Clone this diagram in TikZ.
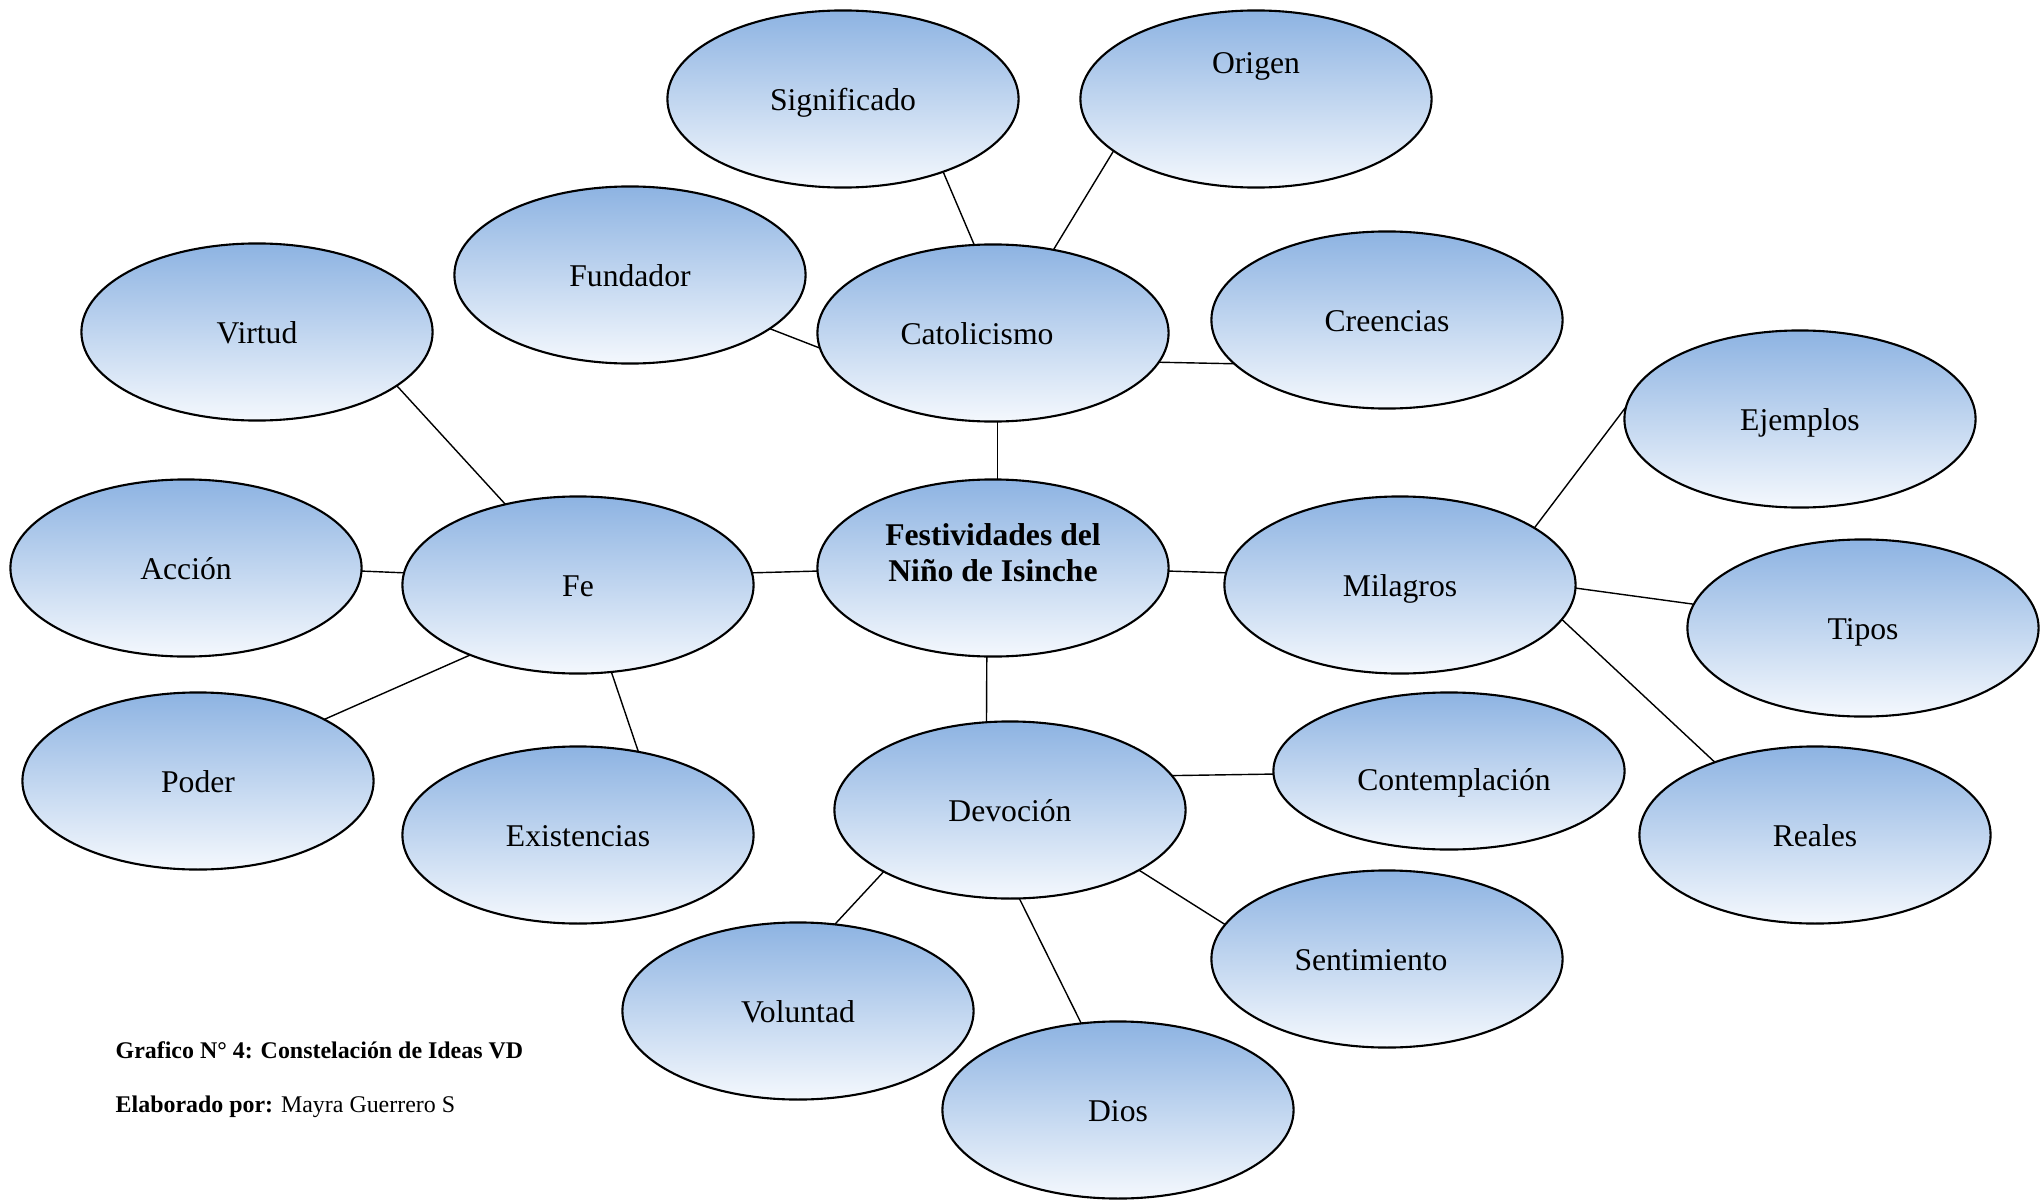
\documentclass[tikz,border=0pt]{standalone}
\usepackage{fontspec}
\setmainfont{Liberation Serif}
\usetikzlibrary{shapes.geometric}

\definecolor{bubbletop}{RGB}{141,179,226}
\definecolor{bubblebottom}{RGB}{244,248,253}

\tikzset{idea_bubble/.style={ellipse, draw=black, line width=0.6pt, inner sep=0pt, outer sep=0pt, minimum width=3.51cm, minimum height=1.77cm, top color=bubbletop, bottom color=bubblebottom, font=\fontsize{9}{10.4}\selectfont}}
\tikzset{idea_word/.style={idea_bubble, text height=8.1pt, text depth=1.8pt}}
\tikzset{link_edge/.style={color=black, line width=0.4pt}}
\tikzset{caption_text/.style={anchor=base west, inner sep=0pt, font=\fontsize{6.8}{8}\selectfont}}

\begin{document}
\begin{tikzpicture}[x=0.01cm, y=-0.01cm]
    \useasboundingbox (0,0) rectangle (2044,1200);
    % centre idea
    \node[idea_bubble, text height=12pt, text depth=14.3pt] (fes) at (993,568) {\bfseries\begin{tabular}{@{}c@{}}Festividades del\\Niño de Isinche\end{tabular}};
    % first ring
    \node[idea_word] (cat) at (993,333) {Catolicismo\hspace*{0.32cm}};
    \node[idea_word] (fe) at (578,585) {Fe};
    \node[idea_word] (mil) at (1400,585) {Milagros};
    \node[idea_word] (dev) at (1010,810) {Devoción};
    % around Catolicismo
    \node[idea_word] (sig) at (843,99) {Significado};
    \node[idea_word, text depth=22.6pt] (ori) at (1256,99) {Origen};
    \node[idea_word] (fun) at (630,275) {Fundador};
    \node[idea_word] (cre) at (1387,320) {Creencias};
    % around Fe
    \node[idea_word] (vir) at (257,332) {Virtud};
    \node[idea_word] (acc) at (186,568) {Acción};
    \node[idea_word] (pod) at (198,781) {Poder};
    \node[idea_word] (exi) at (578,835) {Existencias};
    % around Milagros
    \node[idea_word] (eje) at (1800,419) {Ejemplos};
    \node[idea_word] (tip) at (1863,628) {Tipos};
    \node[idea_word] (rea) at (1815,835) {Reales};
    % around Devoción
    \node[idea_word, minimum height=1.57cm, text height=12.9pt] (con) at (1449,771) {\hspace*{0.1cm}Contemplación};
    \node[idea_word] (sen) at (1387,959) {Sentimiento\hspace*{0.32cm}};
    \node[idea_word] (dio) at (1118,1110) {Dios};
    \node[idea_word] (vol) at (798,1011) {Voluntad};

    \draw[link_edge] (cat.-87)--(fes.87);
    \draw[link_edge] (fe.4)--(fes.181);
    \draw[link_edge] (fes.-1)--(mil.176);
    \draw[link_edge] (fes.-94)--(dev.105);

    \draw[link_edge] (sig.-36)--(cat.102);
    \draw[link_edge] (ori.200)--(cat.54);
    \draw[link_edge] (fun.-21)--(cat.185);
    \draw[link_edge] (cat.-10)--(cre.196);

    \draw[link_edge] (vir.-21)--(fe.132);
    \draw[link_edge] (acc.-1)--(fe.176);
    \draw[link_edge] (fe.213)--(pod.26);
    \draw[link_edge] (fe.-69)--(exi.54);

    \draw[link_edge] (mil.23)--(eje.176);
    \draw[link_edge] (mil.-1)--(tip.172);
    \draw[link_edge] (mil.-12)--(rea.144);

    \draw[link_edge] (dev.12)--(con.181);
    \draw[link_edge] (dev.-25)--(sen.168);
    \draw[link_edge] (dev.-84)--(dio.113);
    \draw[link_edge] (dev.206)--(vol.67);

    \node[caption_text] (cap1) at (115,1058) {\textbf{Grafico N° 4: Constelación de Ideas VD}};
    \node[caption_text] (cap2) at (115,1112) {\textbf{Elaborado por:} Mayra Guerrero S};
  \end{tikzpicture}
\end{document}
